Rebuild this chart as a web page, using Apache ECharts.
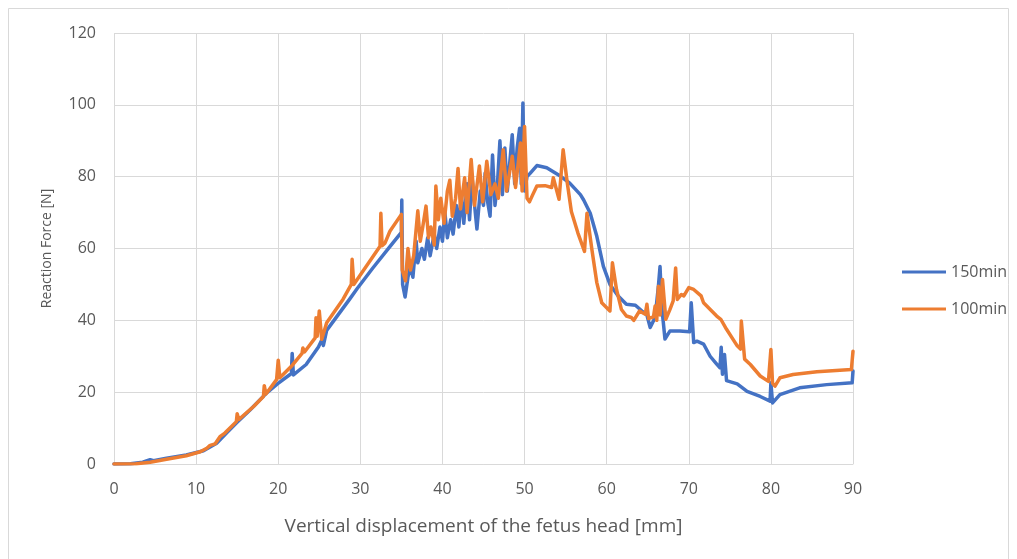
<!DOCTYPE html>
<html>
<head>
<meta charset="utf-8">
<title>Reaction Force vs Vertical Displacement</title>
<script src="https://cdn.jsdelivr.net/npm/echarts@6/dist/echarts.min.js"></script>
<style>
  html, body { margin: 0; padding: 0; background: #ffffff; }
  #chart { width: 1017px; height: 559px; }
</style>
</head>
<body>
<div id="chart"></div>
<script>
// Series names
const seriesNames = ['150min', '100min'];

// 150min: displacement [mm]
const disp150 = [
  0, 2, 3.5, 4.4, 4.8, 6.4, 8.8, 10.9, 12.5, 13.7, 14.9, 16.6, 18.6, 19.9, 20.1,
  21.6, 21.7, 21.85, 23.4, 24.9, 25.3, 25.5, 25.9, 28.7, 29.6, 31.5, 33.6,
  35.0, 35.05, 35.15, 35.45, 35.8, 36.1, 36.4, 36.8, 37.0, 37.5, 37.8, 38.2, 38.5,
  39.0, 39.3, 39.7, 40.0, 40.3, 40.6, 41.0, 41.3, 41.7, 42.0, 42.3, 42.6, 43.0,
  43.3, 43.6, 44.0, 44.2, 44.6, 45.0, 45.2, 45.5, 45.8, 46.1, 46.4, 46.7, 47.0,
  47.3, 47.6, 47.9, 48.2, 48.5, 48.8, 49.1, 49.4, 49.6, 49.8, 50.0,
  50.3, 50.7, 51.5, 52.7, 54.4, 55.5, 56.8, 57.2, 58.0, 58.8, 59.6, 60.4, 61.4,
  62.4, 63.5, 64.3, 64.9, 65.3, 65.9, 66.3, 66.5, 66.7, 67.1, 67.7, 68.9, 70.1,
  70.3, 70.6, 71.0, 71.8, 72.6, 73.4, 73.8, 73.95, 74.1, 74.35, 74.6, 75.9,
  77.1, 78.7, 79.9, 80.0, 80.2, 81.1, 83.5, 86.8, 89.9, 90
];
// 150min: reaction force [N]
const force150 = [
  0, 0.1, 0.5, 1.2, 0.9, 1.6, 2.5, 3.7, 5.8, 8.6, 11.4, 15.1, 19.8, 22.3, 21.8,
  25.2, 30.8, 24.8, 27.7, 32.6, 34.5, 33, 37.2, 45.9, 48.8, 54.5, 60.5,
  64.5, 73.5, 50, 46.5, 52, 55, 52, 62, 56, 60, 57, 63, 58,
  64, 60, 66, 62, 70, 63, 68, 64, 72, 66, 75, 67, 78,
  68, 80, 70, 65.4, 76, 72, 81, 73, 69, 86, 72, 78, 90,
  75, 88, 76, 84, 91.7, 78, 88, 93.5, 78, 100.5, 76,
  80, 81, 83.1, 82.5, 80.1, 78.2, 75, 73.5, 69.8, 63.4, 55, 50, 46.8,
  44.5, 44.2, 42.6, 41.5, 38, 40.8, 49.5, 55, 44, 34.8, 37, 37, 36.8,
  44.9, 33.8, 34.2, 33.4, 30, 27.8, 26.8, 32.5, 25, 30.5, 23.2, 22.3,
  20.2, 18.8, 17.5, 22.6, 17, 19.3, 21.2, 22.1, 22.6, 25.9
];

// 100min: displacement [mm]
const disp100 = [
  0, 2.7, 4.4, 6.4, 8.8, 10.5, 11.3, 11.7, 12.3, 12.9, 13.5, 14.9, 15.0, 15.2,
  17.0, 18.2, 18.3, 18.5, 19.8, 20.0, 20.2, 21.6, 22.9, 23.0, 23.2, 24.5, 24.6,
  24.75, 25.0, 25.3, 25.9, 27.9, 28.9, 29.0, 29.2, 32.4, 32.5, 32.65, 33.0, 33.6,
  35.0, 35.1, 35.5, 35.8, 36.1, 36.5, 37.0, 37.3, 37.6, 38.0, 38.3, 38.6, 39.0,
  39.2, 39.5, 39.8, 40.2, 40.6, 40.9, 41.2, 41.6, 41.9, 42.2, 42.7, 43.0, 43.5,
  43.9, 44.5, 44.9, 45.4, 45.9, 46.4, 46.8, 47.4, 47.8, 48.5, 48.9, 49.5, 49.7,
  50.0, 50.3, 50.6, 51.0, 51.5, 52.5, 53.3, 53.5, 54.2, 54.7, 55.2, 55.7, 56.5,
  57.3, 57.6, 58.2, 58.8, 59.4, 60.4, 60.7, 61.2, 61.8, 62.4, 63.0, 63.3, 64.0,
  64.7, 64.9, 65.1, 65.7, 65.9, 66.1, 66.3, 66.5, 66.8, 67.2, 67.7, 68.1, 68.4,
  68.6, 69.1, 69.4, 70.0, 70.6, 71.5, 71.8, 73.4, 73.9, 74.6, 75.9, 76.3, 76.4,
  76.8, 77.5, 78.7, 79.7, 80.0, 80.2, 80.5, 81.1, 82.7, 85.6, 89.8, 90
];
// 100min: reaction force [N]
const force100 = [
  0, 0.1, 0.5, 1.3, 2.3, 3.4, 4.4, 5.2, 5.6, 7.6, 8.6, 11.8, 14, 12.4,
  16, 18.8, 21.8, 19.5, 23.5, 28.9, 24, 27.2, 30.8, 32.3, 31.2, 35.1, 40.7,
  35.6, 42.6, 34.7, 39.3, 45.9, 50, 57, 50, 60.6, 69.8, 60.8, 61.5, 64.8,
  69.5, 54, 51, 60, 54, 58, 70.5, 62, 66, 71.8, 63, 66, 61,
  77.4, 68, 74, 67, 76, 79, 69, 74, 82.3, 71, 79.7, 70, 84.8,
  72, 83, 73, 84.3, 75, 78, 74, 87.5, 76, 85.7, 77, 89.4, 76,
  94, 74, 73, 75, 77.4, 77.5, 77, 79.7, 73.7, 87.5, 78.3, 70.3, 64.3,
  59.2, 69.8, 59.7, 50.5, 44.9, 42.6, 56, 48.6, 43, 41.2, 40.8, 40, 42.6,
  41.7, 44.5, 40.5, 41, 44, 40, 49.5, 41.5, 51.4, 40.3, 43, 45.4, 54.6,
  45.8, 47.2, 46.8, 49.1, 48.6, 46.8, 44.9, 41.2, 40.3, 37.5, 32.9, 32, 39.8,
  29.2, 27.7, 24.5, 23, 31.9, 22.5, 21.7, 24, 24.9, 25.7, 26.3, 31.4
];

const toPairs = (xs, ys) => xs.map((x, i) => [x, ys[i]]);

const textColor = '#595959';
const gridColor = '#d9d9d9';
const fontFamily = '"Open Sans", "Liberation Sans", sans-serif';

const chart = echarts.init(document.getElementById('chart'), null, { renderer: 'canvas' });

chart.setOption({
  animation: false,
  backgroundColor: '#ffffff',
  textStyle: { fontFamily: fontFamily },
  graphic: [{
    type: 'rect',
    shape: { x: 8.5, y: 8.5, width: 1000, height: 570 },
    style: { fill: 'none', stroke: gridColor, lineWidth: 1 },
    silent: true
  }],
  grid: { left: 114, right: 164, top: 33, bottom: 95, containLabel: false },
  legend: {
    orient: 'vertical',
    left: 897,
    top: 257,
    icon: 'rect',
    itemWidth: 44,
    itemHeight: 3,
    itemGap: 17,
    textStyle: { color: textColor, fontSize: 16, fontFamily: fontFamily, lineHeight: 20 },
    data: seriesNames
  },
  xAxis: {
    type: 'value',
    min: 0,
    max: 90,
    interval: 10,
    name: 'Vertical displacement of the fetus head [mm]',
    nameLocation: 'middle',
    nameGap: 53,
    nameTextStyle: { color: textColor, fontSize: 19, fontFamily: fontFamily },
    axisLine: { show: true, lineStyle: { color: gridColor, width: 1 } },
    axisTick: { show: false },
    axisLabel: { color: textColor, fontSize: 16, margin: 17, fontFamily: fontFamily },
    splitLine: { show: true, lineStyle: { color: gridColor, width: 1 } }
  },
  yAxis: {
    type: 'value',
    min: 0,
    max: 120,
    interval: 20,
    name: 'Reaction Force [N]',
    nameLocation: 'middle',
    nameGap: 60,
    nameTextStyle: { color: textColor, fontSize: 14, fontFamily: fontFamily },
    axisLine: { show: false },
    axisTick: { show: false },
    axisLabel: { color: textColor, fontSize: 16, margin: 18, fontFamily: fontFamily },
    splitLine: { show: true, lineStyle: { color: gridColor, width: 1 } }
  },
  series: [
    {
      name: seriesNames[0],
      type: 'line',
      data: toPairs(disp150, force150),
      showSymbol: false,
      symbol: 'none',
      color: '#4472C4',
      lineStyle: { color: '#4472C4', width: 3.5, join: 'round', cap: 'round' },
      z: 2
    },
    {
      name: seriesNames[1],
      type: 'line',
      data: toPairs(disp100, force100),
      showSymbol: false,
      symbol: 'none',
      color: '#ED7D31',
      lineStyle: { color: '#ED7D31', width: 3.5, join: 'round', cap: 'round' },
      z: 3
    }
  ]
});
</script>
</body>
</html>
